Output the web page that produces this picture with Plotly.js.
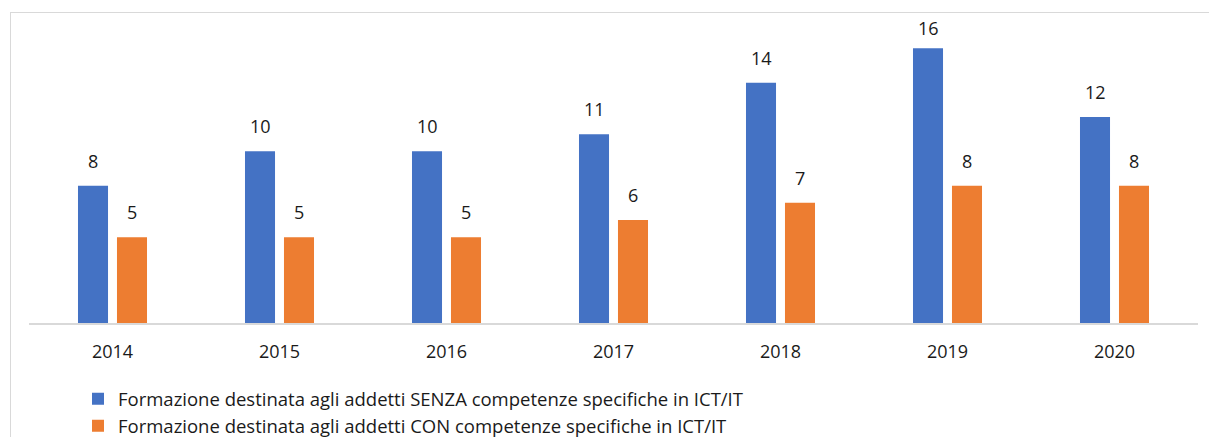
<!DOCTYPE html>
<html>
<head>
<meta charset="utf-8">
<script src="https://cdn.plot.ly/plotly-3.0.1.min.js"></script>
<style>
  html, body { margin: 0; padding: 0; overflow: hidden; background: #fff; }
  #wrap { position: relative; width: 1209px; height: 437px; overflow: hidden; }
  #chart { position: absolute; left: 0; top: 0; width: 1209px; height: 437px; }
  #frame { position: absolute; left: 10px; top: 12px; width: 1400px; height: 600px;
           border: 1px solid #d9d9d9; pointer-events: none; }
</style>
</head>
<body>
<div id="wrap">
  <div id="chart"></div>
  <div id="frame"></div>
</div>
<script>
const years = ['2014', '2015', '2016', '2017', '2018', '2019', '2020'];
const senzaValues = [8, 10, 10, 11, 14, 16, 12];
const conValues = [5, 5, 5, 6, 7, 8, 8];
const senzaName = 'Formazione destinata agli addetti SENZA competenze specifiche in ICT/IT';
const conName = 'Formazione destinata agli addetti CON competenze specifiche in ICT/IT';

const FONT = '"Open Sans", "Noto Sans", sans-serif';

const M = { l: 29, r: 11, t: 14, b: 114 };
const H = 437;
const Y_MAX = 18;
const plotH = H - M.t - M.b;
const ppu = plotH / Y_MAX;
const LABEL_H = 25, LABEL_GAP = 11, LABEL_MIN_TOP = 17;

function labelShift(v) {
  const barTop = M.t + (Y_MAX - v) * ppu;
  let s = LABEL_GAP;
  if (barTop - s - LABEL_H < LABEL_MIN_TOP) s = barTop - LABEL_H - LABEL_MIN_TOP;
  return s;
}

const traces = [
  { type: 'bar', x: years, y: senzaValues, name: senzaName,
    marker: { color: '#4472C4' }, hoverinfo: 'x+y' },
  { type: 'bar', x: years, y: conValues, name: conName,
    marker: { color: '#ED7D31' }, hoverinfo: 'x+y' }
];

const annotations = [];
years.forEach((yr, i) => {
  annotations.push({ x: i, y: senzaValues[i], text: String(senzaValues[i]),
    xref: 'x', yref: 'y', showarrow: false, xshift: -19.5, yshift: labelShift(senzaValues[i]),
    yanchor: 'bottom', font: { family: FONT, size: 18, color: '#1a1a1a' } });
  annotations.push({ x: i, y: conValues[i], text: String(conValues[i]),
    xref: 'x', yref: 'y', showarrow: false, xshift: 19.5, yshift: labelShift(conValues[i]),
    yanchor: 'bottom', font: { family: FONT, size: 18, color: '#1a1a1a' } });
});

const layout = {
  width: 1209, height: H,
  margin: { l: M.l, r: M.r, t: M.t, b: M.b, autoexpand: false },
  paper_bgcolor: 'rgba(0,0,0,0)', plot_bgcolor: 'rgba(0,0,0,0)',
  barmode: 'group', bargap: 0.533, bargroupgap: 0.23,
  font: { family: FONT, color: '#1a1a1a' },
  xaxis: { type: 'category', range: [-0.5, years.length - 0.5], autorange: false,
    showline: true, linecolor: '#d9d9d9', linewidth: 1.5,
    ticks: '', showgrid: false, zeroline: false, ticklabelstandoff: 12,
    tickfont: { family: FONT, size: 18, color: '#1a1a1a' } },
  yaxis: { range: [0, Y_MAX], autorange: false, visible: false, showgrid: false, zeroline: false },
  showlegend: true,
  legend: { orientation: 'v', x: (78 - 29) / 1169, xanchor: 'left', y: -0.185, yanchor: 'top',
    font: { family: FONT, size: 18.5, color: '#1a1a1a' }, traceorder: 'normal',
    bgcolor: 'rgba(0,0,0,0)' },
  annotations: annotations
};

Plotly.newPlot('chart', traces, layout, { displayModeBar: false, staticPlot: true });
</script>
</body>
</html>
